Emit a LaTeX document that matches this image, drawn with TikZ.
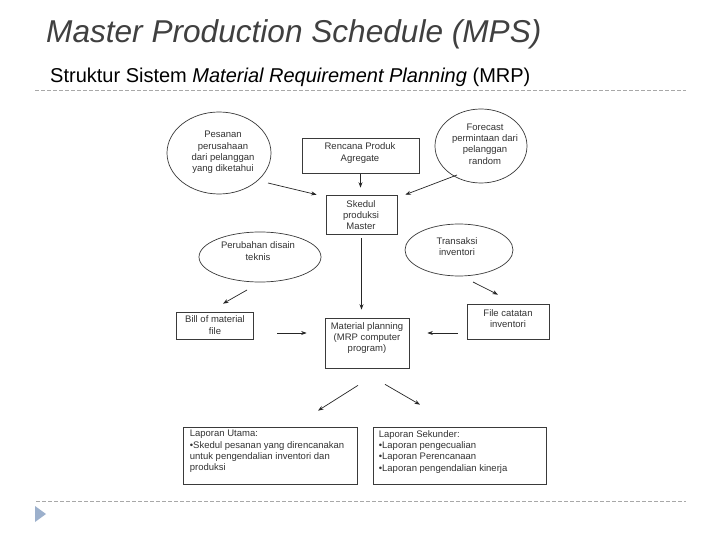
\documentclass[tikz,border=0pt]{standalone}
\usepackage{fontspec}
\setmainfont{Liberation Sans}
\usetikzlibrary{calc,shapes.geometric,arrows.meta}
\definecolor{titlegray}{HTML}{404040}
\definecolor{rulegray}{HTML}{A8A8A8}
\definecolor{tribl}{HTML}{9CB0CC}
\definecolor{ink}{HTML}{333333}
\definecolor{edge}{HTML}{3A3A3A}
\begin{document}
\begin{tikzpicture}[x=1pt,y=-1pt,
  txt/.style={font=\fontsize{9.5}{11.3}\selectfont, align=center, text=ink, inner sep=0pt},
  ltxt/.style={font=\fontsize{9.5}{11.3}\selectfont, align=left, text=ink, inner sep=0pt},
  boxn/.style={draw=edge, line width=0.7pt, rectangle, inner sep=0pt},
  ellip/.style={draw=edge, line width=0.7pt, ellipse, inner sep=0pt},
  arr/.style={draw=black!85, line width=0.7pt, -{Stealth[length=5.5pt,width=4pt]}},
  rulel/.style={draw=rulegray, line width=0.9pt, dash pattern=on 4pt off 2pt}]
\useasboundingbox[fill=white] (0,0) rectangle (720,540);

% titles
\node[anchor=base west, inner sep=0pt, text=titlegray, font=\fontsize{31.6}{36}\selectfont\itshape] (title) at (46,43) {Master Production Schedule (MPS)};
\node[anchor=base west, inner sep=0pt, text=black, font=\fontsize{20}{24}\selectfont] (sub) at (50,83) {Struktur Sistem \textit{Material Requirement Planning} (MRP)};
\coordinate (r1a) at (35,90);
\coordinate (r1b) at (686,90);
\draw[rulel] (r1a) -- (r1b);
\coordinate (r2a) at (36,501);
\coordinate (r2b) at (686,501);
\draw[rulel] (r2a) -- (r2b);
\fill[tribl] (35,506) -- (35,522) -- (46,514) -- cycle;

% ellipses
\node[ellip, minimum width=104pt, minimum height=82pt] (pes) at (219,153) {};
\node[txt] (pest) at (223,152.5) {Pesanan\\perusahaan\\dari pelanggan\\yang diketahui};
\node[ellip, minimum width=92pt, minimum height=74pt] (fc) at (481,146) {};
\node[txt] (fct) at (485,144) {Forecast\\permintaan dari\\pelanggan\\random};
\node[ellip, minimum width=122pt, minimum height=50pt] (per) at (260,257) {};
\node[txt] (pert) at (258,251) {Perubahan disain\\teknis};
\node[ellip, minimum width=108pt, minimum height=52pt] (tr) at (459,250) {};
\node[txt] (trt) at (457,246.5) {Transaksi\\inventori};

% boxes
\node[boxn, minimum width=117pt, minimum height=35pt] (ren) at (360.5,155.5) {};
\node[txt] (rent) at (360,153) {Rencana Produk\\Agregate};
\node[boxn, minimum width=71pt, minimum height=39pt] (sk) at (361.5,214.5) {};
\node[txt] (skt) at (361,215) {Skedul\\produksi\\Master};
\node[boxn, minimum width=77pt, minimum height=27pt] (bill) at (214.5,325.5) {};
\node[txt] (billt) at (215,325) {Bill of material\\file};
\node[boxn, minimum width=84pt, minimum height=50pt] (mat) at (367,343) {};
\node[txt] (matt) at (367,338) {Material planning\\(MRP computer\\program)};
\node[boxn, minimum width=82pt, minimum height=35pt] (file) at (508,321.5) {};
\node[txt] (filet) at (508,318.5) {File catatan\\inventori};
\node[boxn, minimum width=174pt, minimum height=57pt] (ut) at (270,455.5) {};
\node[ltxt, anchor=north west] (utt) at ($(ut.north west)+(7,3.5)$) {Laporan Utama:\\•Skedul pesanan yang direncanakan\\untuk pengendalian inventori dan\\produksi};
\node[boxn, minimum width=173pt, minimum height=57pt] (sek) at (459.5,455.5) {};
\node[ltxt, anchor=north west] (sekt) at ($(sek.north west)+(6,3.5)$) {Laporan Sekunder:\\•Laporan pengecualian\\•Laporan Perencanaan\\•Laporan pengendalian kinerja};

% connectors
\draw[arr] ($(pes.center)+(49,30)$) -- ($(sk.north west)+(-9,0)$);
\draw[arr, shorten <=1pt, shorten >=7pt] (ren.south) -- (ren.south |- sk.north);
\draw[arr] ($(fc.center)+(-24,29)$) -- ($(sk.north east)+(8,0)$);
\draw[arr] ($(per.center)+(-13,33)$) -- ($(bill.north)+(8.5,-8)$);
\draw[arr] ($(tr.center)+(14,32)$) -- ($(file.north)+(-10,-9)$);
\draw[arr, shorten <=4pt, shorten >=8pt] (sk.south) -- (sk.south |- mat.north);
\draw[arr] ($(bill.east)+(24,7.5)$) -- ($(mat.west)+(-18,-10)$);
\draw[arr] ($(file.west)+(-9,11.5)$) -- ($(mat.east)+(18,-10)$);
\draw[arr] ($(mat.south)+(-9,17)$) -- ($(ut.north)+(48,-16)$);
\draw[arr] ($(mat.south)+(18,16)$) -- ($(sek.north)+(-39.5,-22)$);
\end{tikzpicture}
\end{document}
